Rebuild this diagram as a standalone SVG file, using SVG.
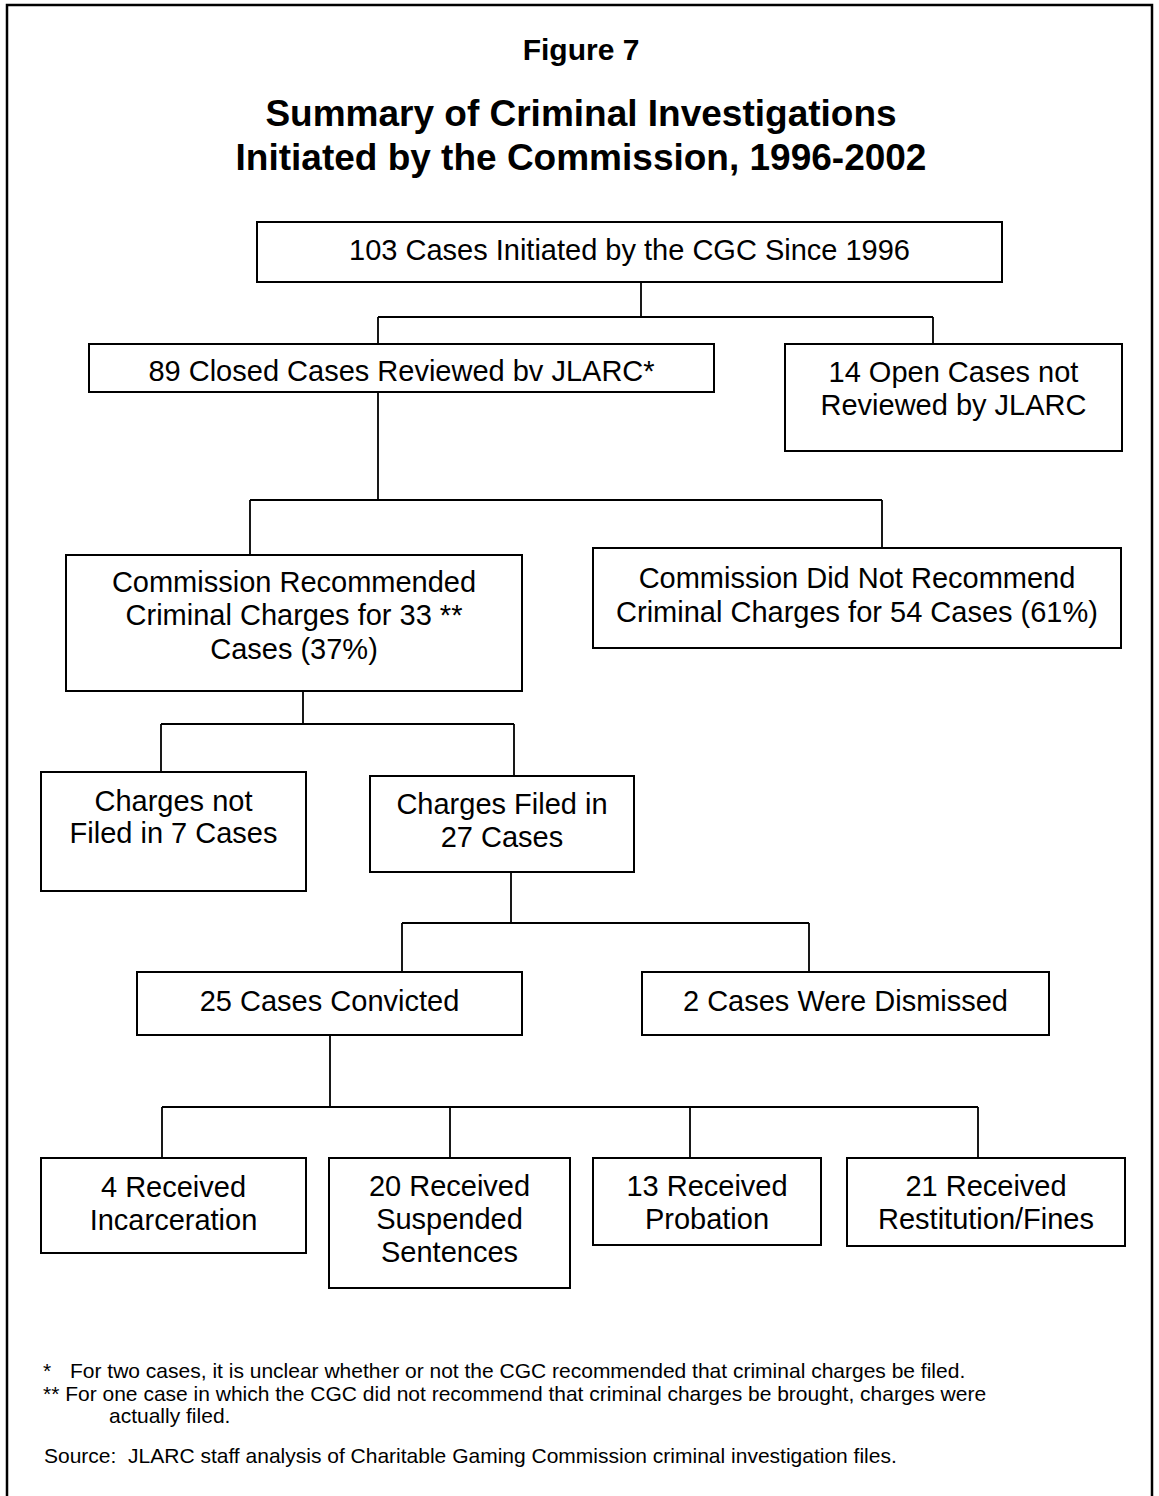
<svg xmlns="http://www.w3.org/2000/svg" width="1159" height="1496" viewBox="0 0 1159 1496">
  <style>
    .frame { fill: none; stroke: #000; stroke-width: 2.5; }
    .box { fill: #fff; stroke: #000; stroke-width: 2; }
    .wire { fill: none; stroke: #000; stroke-width: 1.8; }
    .lbl { font-family: "Liberation Sans", Arial, sans-serif; font-size: 29px; fill: #000; text-anchor: middle; }
    .ttl { font-family: "Liberation Sans", Arial, sans-serif; font-weight: bold; fill: #000; text-anchor: middle; }
    .note { font-family: "Liberation Sans", Arial, sans-serif; font-size: 21px; fill: #000; white-space: pre; }
  </style>

  <rect width="1159" height="1496" fill="#fff"/>
  <rect class="frame" x="7" y="5" width="1145" height="1500"/>

  <!-- headings -->
  <text class="ttl" x="581" y="60" font-size="30">Figure 7</text>
  <text class="ttl" x="581" y="126" font-size="37">Summary of Criminal Investigations</text>
  <text class="ttl" x="581" y="170" font-size="37">Initiated by the Commission, 1996-2002</text>

  <!-- connectors -->
  <g id="connectors" class="wire">
    <path d="M641,282 V317 M378,317 H933 M378,317 V344 M933,317 V344"/>
    <path d="M378,392 V500 M250,500 H882 M250,500 V555 M882,500 V548"/>
    <path d="M303,691 V724 M161,724 H514 M161,724 V772 M514,724 V776"/>
    <path d="M511,872 V923 M402,923 H809 M402,923 V972 M809,923 V972"/>
    <path d="M330,1035 V1107 M162,1107 H978 M162,1107 V1158 M450,1107 V1158 M690,1107 V1158 M978,1107 V1158"/>
  </g>

  <!-- nodes -->
  <g id="n-initiated">
    <rect class="box" x="257" y="222" width="745" height="60"/>
    <text class="lbl" x="629.5" y="260">103 Cases Initiated by the CGC Since 1996</text>
  </g>
  <g id="n-closed">
    <rect class="box" x="89" y="344" width="625" height="48"/>
    <text class="lbl" x="401.5" y="381">89 Closed Cases Reviewed bv JLARC*</text>
  </g>
  <g id="n-open">
    <rect class="box" x="785" y="344" width="337" height="107"/>
    <text class="lbl" x="953.5" y="382">14 Open Cases not</text>
    <text class="lbl" x="953.5" y="415">Reviewed by JLARC</text>
  </g>
  <g id="n-recommended">
    <rect class="box" x="66" y="555" width="456" height="136"/>
    <text class="lbl" x="294" y="592">Commission Recommended</text>
    <text class="lbl" x="294" y="625">Criminal Charges for 33 **</text>
    <text class="lbl" x="294" y="659">Cases (37%)</text>
  </g>
  <g id="n-not-recommended">
    <rect class="box" x="593" y="548" width="528" height="100"/>
    <text class="lbl" x="857" y="588">Commission Did Not Recommend</text>
    <text class="lbl" x="857" y="622">Criminal Charges for 54 Cases (61%)</text>
  </g>
  <g id="n-not-filed">
    <rect class="box" x="41" y="772" width="265" height="119"/>
    <text class="lbl" x="173.5" y="811">Charges not</text>
    <text class="lbl" x="173.5" y="843">Filed in 7 Cases</text>
  </g>
  <g id="n-filed">
    <rect class="box" x="370" y="776" width="264" height="96"/>
    <text class="lbl" x="502" y="814">Charges Filed in</text>
    <text class="lbl" x="502" y="847">27 Cases</text>
  </g>
  <g id="n-convicted">
    <rect class="box" x="137" y="972" width="385" height="63"/>
    <text class="lbl" x="329.5" y="1011">25 Cases Convicted</text>
  </g>
  <g id="n-dismissed">
    <rect class="box" x="642" y="972" width="407" height="63"/>
    <text class="lbl" x="845.5" y="1011">2 Cases Were Dismissed</text>
  </g>
  <g id="n-incarceration">
    <rect class="box" x="41" y="1158" width="265" height="95"/>
    <text class="lbl" x="173.5" y="1197">4 Received</text>
    <text class="lbl" x="173.5" y="1230">Incarceration</text>
  </g>
  <g id="n-suspended">
    <rect class="box" x="329" y="1158" width="241" height="130"/>
    <text class="lbl" x="449.5" y="1196">20 Received</text>
    <text class="lbl" x="449.5" y="1229">Suspended</text>
    <text class="lbl" x="449.5" y="1262">Sentences</text>
  </g>
  <g id="n-probation">
    <rect class="box" x="593" y="1158" width="228" height="87"/>
    <text class="lbl" x="707" y="1196">13 Received</text>
    <text class="lbl" x="707" y="1229">Probation</text>
  </g>
  <g id="n-restitution">
    <rect class="box" x="847" y="1158" width="278" height="88"/>
    <text class="lbl" x="986" y="1196">21 Received</text>
    <text class="lbl" x="986" y="1229">Restitution/Fines</text>
  </g>

  <!-- footnotes and source -->
  <text class="note" x="43" y="1378">*</text>
  <text class="note" x="70" y="1378">For two cases, it is unclear whether or not the CGC recommended that criminal charges be filed.</text>
  <text class="note" x="43" y="1401">** For one case in which the CGC did not recommend that criminal charges be brought, charges were</text>
  <text class="note" x="109" y="1423">actually filed.</text>
  <text class="note" x="44" y="1463">Source:  JLARC staff analysis of Charitable Gaming Commission criminal investigation files.</text>
</svg>
